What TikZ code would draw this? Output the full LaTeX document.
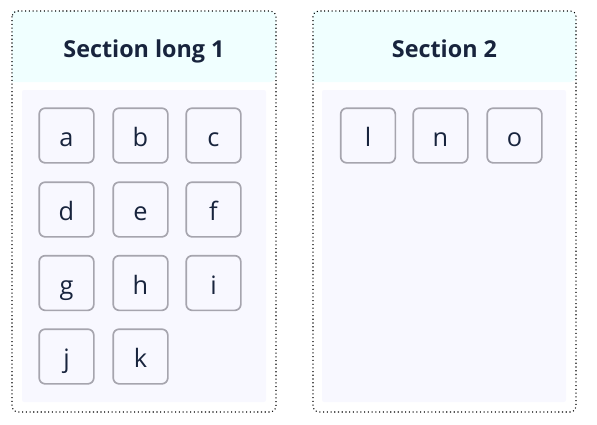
\documentclass[tikz,border=0pt]{standalone}
\usepackage{fontspec}
\setmainfont{Open Sans}
\definecolor{ink}{HTML}{18243D}
\definecolor{headfill}{HTML}{F0FFFF}
\definecolor{panelfill}{HTML}{F8F8FF}
\definecolor{itemline}{HTML}{A6A5AE}

\begin{document}
\begin{tikzpicture}[x=0.75pt, y=-0.75pt,
  item/.style={rectangle, rounded corners=4.5pt, draw=itemline, line width=1.25pt, fill=panelfill, minimum size=41pt, inner sep=0pt, text height=16.5pt, text depth=0pt, text=ink, font=\fontsize{19}{19}\selectfont},
  title/.style={anchor=base, text=ink, font=\fontsize{17.5}{17.5}\selectfont\bfseries}]
\useasboundingbox (0,0) rectangle (597,425);

% section long 1
\fill[headfill, rounded corners=4pt] (12,11) -- (276,11) -- (276,82) [sharp corners] -- (12,82) -- cycle;
\fill[panelfill, rounded corners=1.5pt] (22,90) rectangle (266,402);
\draw[black, dotted, line width=0.8pt, rounded corners=4pt] (12,11) rectangle (276,412);
\node[title] (sec1) at (144,57) {Section long 1};

% section 2
\fill[headfill, rounded corners=4pt] (313,11) -- (576,11) -- (576,82) [sharp corners] -- (313,82) -- cycle;
\fill[panelfill, rounded corners=1.5pt] (322,90) rectangle (566,402);
\draw[black, dotted, line width=0.8pt, rounded corners=4pt] (313,11) rectangle (576,412);
\node[title] (sec2) at (444.5,57) {Section 2};

\node[item] (a) at (66.5,135.5) {a};
\node[item] (b) at (140.5,135.5) {b};
\node[item] (c) at (213.5,135.5) {c};
\node[item] (d) at (66.5,209.5) {d};
\node[item] (e) at (140.5,209.5) {e};
\node[item] (f) at (213.5,209.5) {f};
\node[item] (g) at (66.5,283) {g};
\node[item] (h) at (140.5,283) {h};
\node[item] (i) at (213.5,283) {i};
\node[item] (j) at (66.5,356.5) {j};
\node[item] (k) at (140.5,356.5) {k};

\node[item] (l) at (368,135.5) {l};
\node[item] (n) at (440.5,135.5) {n};
\node[item] (o) at (514.5,135.5) {o};
\end{tikzpicture}
\end{document}
